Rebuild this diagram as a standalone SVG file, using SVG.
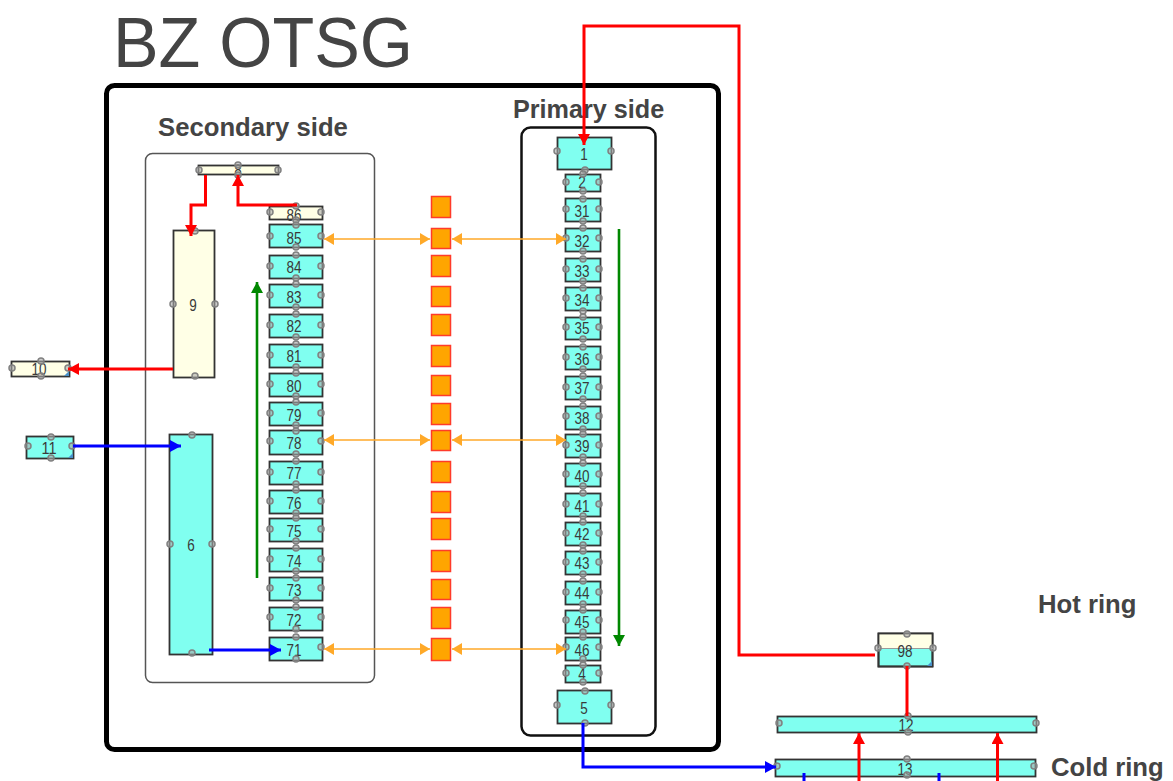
<svg xmlns="http://www.w3.org/2000/svg" width="1173" height="781" viewBox="0 0 1173 781">
<style>
text{font-family:"Liberation Sans",Arial,sans-serif}
.t{font-size:16px;fill:#3a3a3a;text-anchor:middle}
.h{font-size:25.700px;font-weight:bold;fill:#444}
.c rect{fill:#80fff0;stroke:#333;stroke-width:1.800}
.y rect{fill:#ffffe6;stroke:#333;stroke-width:1.800}
.o rect{fill:#ffa500;stroke:#ff3b2a;stroke-width:1.500}
circle{fill:#aaa;fill-opacity:.6;stroke:#808080;stroke-width:1.500}
.k{fill:#4a90c8;stroke:none}
.r{fill:none;stroke:#f00;stroke-width:3}
.b{fill:none;stroke:#00f;stroke-width:3}
.g{fill:none;stroke:#080;stroke-width:2.600}
.a{fill:none;stroke:#ffa928;stroke-width:1.600;marker-start:url(#ao);marker-end:url(#ao)}
</style>
<defs>
<marker id="ar" markerUnits="userSpaceOnUse" markerWidth="12" markerHeight="12" refX="11" refY="6" orient="auto"><path d="M0 0L11 6L0 12Z" fill="#f00"/></marker>
<marker id="ab" markerUnits="userSpaceOnUse" markerWidth="12" markerHeight="12" refX="11" refY="6" orient="auto"><path d="M0 0L11 6L0 12Z" fill="#00f"/></marker>
<marker id="ag" markerUnits="userSpaceOnUse" markerWidth="12" markerHeight="12" refX="11" refY="6" orient="auto"><path d="M0 0L11 6L0 12Z" fill="#080"/></marker>
<marker id="ao" markerUnits="userSpaceOnUse" markerWidth="11" markerHeight="12" refX="10" refY="6" orient="auto-start-reverse"><path d="M0 0L10 6L0 12Z" fill="#ffa928"/></marker>
</defs>
<rect width="1173" height="781" fill="#fff"/>
<g id="labels">
<text x="113" y="67" font-size="71" fill="#444" textLength="300" lengthAdjust="spacingAndGlyphs">BZ OTSG</text>
<text x="158" y="136" class="h">Secondary side</text>
<text x="513" y="118" class="h" style="font-size:25.200px">Primary side</text>
<text x="1038" y="613" class="h">Hot ring</text>
<text x="1051" y="776" class="h">Cold ring</text>
</g>
<g id="frames" fill="none">
<rect x="106.500" y="85.500" width="612" height="664" rx="8" stroke="#000" stroke-width="5"/>
<rect x="145.500" y="153.500" width="229" height="529" rx="7" stroke="#555" stroke-width="1.500"/>
<rect x="521.500" y="127.500" width="134" height="608" rx="9" stroke="#111" stroke-width="2.500"/>
</g>
<g id="n8" class="y"><rect x="198.500" y="165.500" width="80" height="9"/><text class="t" x="238" y="176" textLength="7.500" lengthAdjust="spacingAndGlyphs">8</text><circle cx="199" cy="170" r="3"/><circle cx="278" cy="170" r="3"/><circle cx="238" cy="165" r="3"/><circle cx="238" cy="175" r="3"/></g>
<g id="n9" class="y"><rect x="173.500" y="230.500" width="41" height="147"/><text class="t" x="193" y="311" textLength="7.500" lengthAdjust="spacingAndGlyphs">9</text><circle cx="173" cy="304" r="3"/><circle cx="215" cy="304" r="3"/><circle cx="195" cy="231" r="3"/><circle cx="195" cy="376" r="3"/></g>
<g id="n6" class="c"><rect x="169.500" y="434.500" width="43" height="220"/><text class="t" x="191" y="551" textLength="7.500" lengthAdjust="spacingAndGlyphs">6</text><circle cx="170" cy="544" r="3"/><circle cx="212" cy="544" r="3"/><circle cx="192" cy="435" r="3"/><circle cx="192" cy="653" r="3"/></g>
<g id="n10" class="y"><rect x="11.500" y="361.500" width="58" height="15"/><path class="k" d="M69 371V376H64Z"/><text class="t" x="39" y="375" textLength="15" lengthAdjust="spacingAndGlyphs">10</text><circle cx="12" cy="368" r="3"/><circle cx="68" cy="368" r="3"/><circle cx="41" cy="361" r="3"/><circle cx="41" cy="376" r="3"/></g>
<g id="n11" class="c"><rect x="26.500" y="436.500" width="47" height="22"/><path class="k" d="M73 453V458H68Z"/><text class="t" x="49" y="454" textLength="15" lengthAdjust="spacingAndGlyphs">11</text><circle cx="28" cy="446" r="3"/><circle cx="72" cy="446" r="3"/><circle cx="51" cy="437" r="3"/><circle cx="51" cy="458" r="3"/></g>
<g id="n86" class="y"><rect x="269.500" y="206.500" width="53" height="13"/><text class="t" x="294" y="221" textLength="15" lengthAdjust="spacingAndGlyphs">86</text><circle cx="270" cy="212" r="3"/><circle cx="321" cy="212" r="3"/><circle cx="296" cy="206" r="3"/><circle cx="296" cy="220" r="3"/></g>
<g id="n85" class="c"><rect x="269.500" y="224.500" width="53" height="23"/><text class="t" x="294" y="244" textLength="15" lengthAdjust="spacingAndGlyphs">85</text><circle cx="270" cy="236" r="3"/><circle cx="321" cy="236" r="3"/><circle cx="296" cy="225" r="3"/><circle cx="296" cy="247" r="3"/></g>
<g id="n84" class="c"><rect x="269.500" y="255.500" width="53" height="23"/><text class="t" x="294" y="273" textLength="15" lengthAdjust="spacingAndGlyphs">84</text><circle cx="270" cy="266" r="3"/><circle cx="321" cy="266" r="3"/><circle cx="296" cy="255" r="3"/><circle cx="296" cy="278" r="3"/></g>
<g id="n83" class="c"><rect x="269.500" y="284.500" width="53" height="23"/><text class="t" x="294" y="303" textLength="15" lengthAdjust="spacingAndGlyphs">83</text><circle cx="270" cy="295" r="3"/><circle cx="321" cy="295" r="3"/><circle cx="296" cy="284" r="3"/><circle cx="296" cy="307" r="3"/></g>
<g id="n82" class="c"><rect x="269.500" y="314.500" width="53" height="23"/><text class="t" x="294" y="332" textLength="15" lengthAdjust="spacingAndGlyphs">82</text><circle cx="270" cy="325" r="3"/><circle cx="321" cy="325" r="3"/><circle cx="296" cy="314" r="3"/><circle cx="296" cy="337" r="3"/></g>
<g id="n81" class="c"><rect x="269.500" y="344.500" width="53" height="23"/><text class="t" x="294" y="362" textLength="15" lengthAdjust="spacingAndGlyphs">81</text><circle cx="270" cy="355" r="3"/><circle cx="321" cy="355" r="3"/><circle cx="296" cy="344" r="3"/><circle cx="296" cy="367" r="3"/></g>
<g id="n80" class="c"><rect x="269.500" y="373.500" width="53" height="23"/><text class="t" x="294" y="392" textLength="15" lengthAdjust="spacingAndGlyphs">80</text><circle cx="270" cy="384" r="3"/><circle cx="321" cy="384" r="3"/><circle cx="296" cy="373" r="3"/><circle cx="296" cy="396" r="3"/></g>
<g id="n79" class="c"><rect x="269.500" y="402.500" width="53" height="23"/><text class="t" x="294" y="421" textLength="15" lengthAdjust="spacingAndGlyphs">79</text><circle cx="270" cy="413" r="3"/><circle cx="321" cy="413" r="3"/><circle cx="296" cy="402" r="3"/><circle cx="296" cy="425" r="3"/></g>
<g id="n78" class="c"><rect x="269.500" y="430.500" width="53" height="24"/><text class="t" x="294" y="449" textLength="15" lengthAdjust="spacingAndGlyphs">78</text><circle cx="270" cy="441" r="3"/><circle cx="321" cy="441" r="3"/><circle cx="296" cy="431" r="3"/><circle cx="296" cy="454" r="3"/></g>
<g id="n77" class="c"><rect x="269.500" y="461.500" width="53" height="23"/><text class="t" x="294" y="479" textLength="15" lengthAdjust="spacingAndGlyphs">77</text><circle cx="270" cy="472" r="3"/><circle cx="321" cy="472" r="3"/><circle cx="296" cy="461" r="3"/><circle cx="296" cy="484" r="3"/></g>
<g id="n76" class="c"><rect x="269.500" y="490.500" width="53" height="23"/><text class="t" x="294" y="509" textLength="15" lengthAdjust="spacingAndGlyphs">76</text><circle cx="270" cy="501" r="3"/><circle cx="321" cy="501" r="3"/><circle cx="296" cy="490" r="3"/><circle cx="296" cy="513" r="3"/></g>
<g id="n75" class="c"><rect x="269.500" y="518.500" width="53" height="23"/><text class="t" x="294" y="537" textLength="15" lengthAdjust="spacingAndGlyphs">75</text><circle cx="270" cy="529" r="3"/><circle cx="321" cy="529" r="3"/><circle cx="296" cy="518" r="3"/><circle cx="296" cy="541" r="3"/></g>
<g id="n74" class="c"><rect x="269.500" y="548.500" width="53" height="23"/><text class="t" x="294" y="567" textLength="15" lengthAdjust="spacingAndGlyphs">74</text><circle cx="270" cy="559" r="3"/><circle cx="321" cy="559" r="3"/><circle cx="296" cy="548" r="3"/><circle cx="296" cy="571" r="3"/></g>
<g id="n73" class="c"><rect x="269.500" y="577.500" width="53" height="23"/><text class="t" x="294" y="596" textLength="15" lengthAdjust="spacingAndGlyphs">73</text><circle cx="270" cy="588" r="3"/><circle cx="321" cy="588" r="3"/><circle cx="296" cy="578" r="3"/><circle cx="296" cy="600" r="3"/></g>
<g id="n72" class="c"><rect x="269.500" y="607.500" width="53" height="23"/><text class="t" x="294" y="626" textLength="15" lengthAdjust="spacingAndGlyphs">72</text><circle cx="270" cy="617" r="3"/><circle cx="321" cy="617" r="3"/><circle cx="296" cy="607" r="3"/><circle cx="296" cy="629" r="3"/></g>
<g id="n71" class="c"><rect x="269.500" y="637.500" width="53" height="23"/><text class="t" x="294" y="656" textLength="15" lengthAdjust="spacingAndGlyphs">71</text><circle cx="321" cy="647" r="3"/><circle cx="296" cy="637" r="3"/><circle cx="296" cy="659" r="3"/></g>
<g id="n1" class="c"><rect x="557.500" y="137.500" width="54" height="32"/><text class="t" x="584" y="160" textLength="7.500" lengthAdjust="spacingAndGlyphs">1</text><circle cx="557" cy="151" r="3"/><circle cx="611" cy="151" r="3"/><circle cx="585" cy="170" r="3"/></g>
<g id="n2" class="c"><rect x="565.500" y="174.500" width="35" height="17"/><text class="t" x="582" y="188" textLength="7.500" lengthAdjust="spacingAndGlyphs">2</text><circle cx="566" cy="182" r="3"/><circle cx="599" cy="182" r="3"/><circle cx="583" cy="174" r="3"/><circle cx="583" cy="191" r="3"/></g>
<g id="n31" class="c"><rect x="565.500" y="198.500" width="35" height="23"/><text class="t" x="582" y="217" textLength="15" lengthAdjust="spacingAndGlyphs">31</text><circle cx="566" cy="209" r="3"/><circle cx="599" cy="209" r="3"/><circle cx="583" cy="199" r="3"/><circle cx="583" cy="221" r="3"/></g>
<g id="n32" class="c"><rect x="565.500" y="228.500" width="35" height="23"/><text class="t" x="582" y="247" textLength="15" lengthAdjust="spacingAndGlyphs">32</text><circle cx="566" cy="238" r="3"/><circle cx="599" cy="238" r="3"/><circle cx="583" cy="228" r="3"/><circle cx="583" cy="251" r="3"/></g>
<g id="n33" class="c"><rect x="565.500" y="258.500" width="35" height="23"/><text class="t" x="582" y="277" textLength="15" lengthAdjust="spacingAndGlyphs">33</text><circle cx="566" cy="269" r="3"/><circle cx="599" cy="269" r="3"/><circle cx="583" cy="259" r="3"/><circle cx="583" cy="281" r="3"/></g>
<g id="n34" class="c"><rect x="565.500" y="287.500" width="35" height="23"/><text class="t" x="582" y="306" textLength="15" lengthAdjust="spacingAndGlyphs">34</text><circle cx="566" cy="298" r="3"/><circle cx="599" cy="298" r="3"/><circle cx="583" cy="288" r="3"/><circle cx="583" cy="311" r="3"/></g>
<g id="n35" class="c"><rect x="565.500" y="317.500" width="35" height="22"/><text class="t" x="582" y="334" textLength="15" lengthAdjust="spacingAndGlyphs">35</text><circle cx="566" cy="327" r="3"/><circle cx="599" cy="327" r="3"/><circle cx="583" cy="317" r="3"/><circle cx="583" cy="339" r="3"/></g>
<g id="n36" class="c"><rect x="565.500" y="346.500" width="35" height="23"/><text class="t" x="582" y="365" textLength="15" lengthAdjust="spacingAndGlyphs">36</text><circle cx="566" cy="357" r="3"/><circle cx="599" cy="357" r="3"/><circle cx="583" cy="347" r="3"/><circle cx="583" cy="369" r="3"/></g>
<g id="n37" class="c"><rect x="565.500" y="376.500" width="35" height="23"/><text class="t" x="582" y="394" textLength="15" lengthAdjust="spacingAndGlyphs">37</text><circle cx="566" cy="387" r="3"/><circle cx="599" cy="387" r="3"/><circle cx="583" cy="376" r="3"/><circle cx="583" cy="399" r="3"/></g>
<g id="n38" class="c"><rect x="565.500" y="406.500" width="35" height="23"/><text class="t" x="582" y="424" textLength="15" lengthAdjust="spacingAndGlyphs">38</text><circle cx="566" cy="416" r="3"/><circle cx="599" cy="416" r="3"/><circle cx="583" cy="406" r="3"/><circle cx="583" cy="429" r="3"/></g>
<g id="n39" class="c"><rect x="565.500" y="434.500" width="35" height="23"/><text class="t" x="582" y="452" textLength="15" lengthAdjust="spacingAndGlyphs">39</text><circle cx="566" cy="445" r="3"/><circle cx="599" cy="445" r="3"/><circle cx="583" cy="434" r="3"/><circle cx="583" cy="457" r="3"/></g>
<g id="n40" class="c"><rect x="565.500" y="463.500" width="35" height="23"/><text class="t" x="582" y="482" textLength="15" lengthAdjust="spacingAndGlyphs">40</text><circle cx="566" cy="474" r="3"/><circle cx="599" cy="474" r="3"/><circle cx="583" cy="463" r="3"/><circle cx="583" cy="486" r="3"/></g>
<g id="n41" class="c"><rect x="565.500" y="493.500" width="35" height="23"/><text class="t" x="582" y="512" textLength="15" lengthAdjust="spacingAndGlyphs">41</text><circle cx="566" cy="504" r="3"/><circle cx="599" cy="504" r="3"/><circle cx="583" cy="493" r="3"/><circle cx="583" cy="516" r="3"/></g>
<g id="n42" class="c"><rect x="565.500" y="522.500" width="35" height="23"/><text class="t" x="582" y="540" textLength="15" lengthAdjust="spacingAndGlyphs">42</text><circle cx="566" cy="533" r="3"/><circle cx="599" cy="533" r="3"/><circle cx="583" cy="522" r="3"/><circle cx="583" cy="545" r="3"/></g>
<g id="n43" class="c"><rect x="565.500" y="551.500" width="35" height="23"/><text class="t" x="582" y="569" textLength="15" lengthAdjust="spacingAndGlyphs">43</text><circle cx="566" cy="562" r="3"/><circle cx="599" cy="562" r="3"/><circle cx="583" cy="551" r="3"/><circle cx="583" cy="574" r="3"/></g>
<g id="n44" class="c"><rect x="565.500" y="581.500" width="35" height="23"/><text class="t" x="582" y="599" textLength="15" lengthAdjust="spacingAndGlyphs">44</text><circle cx="566" cy="592" r="3"/><circle cx="599" cy="592" r="3"/><circle cx="583" cy="581" r="3"/><circle cx="583" cy="604" r="3"/></g>
<g id="n45" class="c"><rect x="565.500" y="610.500" width="35" height="23"/><text class="t" x="582" y="628" textLength="15" lengthAdjust="spacingAndGlyphs">45</text><circle cx="566" cy="620" r="3"/><circle cx="599" cy="620" r="3"/><circle cx="583" cy="610" r="3"/><circle cx="583" cy="632" r="3"/></g>
<g id="n46" class="c"><rect x="565.500" y="637.500" width="35" height="23"/><text class="t" x="582" y="656" textLength="15" lengthAdjust="spacingAndGlyphs">46</text><circle cx="566" cy="647" r="3"/><circle cx="599" cy="647" r="3"/><circle cx="583" cy="637" r="3"/><circle cx="583" cy="659" r="3"/></g>
<g id="n4" class="c"><rect x="565.500" y="665.500" width="35" height="17"/><text class="t" x="582" y="680" textLength="7.500" lengthAdjust="spacingAndGlyphs">4</text><circle cx="566" cy="673" r="3"/><circle cx="599" cy="673" r="3"/><circle cx="583" cy="665" r="3"/><circle cx="583" cy="682" r="3"/></g>
<g id="n5" class="c"><rect x="557.500" y="690.500" width="54" height="33"/><text class="t" x="584" y="714" textLength="7.500" lengthAdjust="spacingAndGlyphs">5</text><circle cx="557" cy="705" r="3"/><circle cx="611" cy="705" r="3"/><circle cx="585" cy="691" r="3"/><circle cx="585" cy="723" r="3"/></g>
<g id="n98" class="c"><rect x="878.500" y="633.500" width="54" height="33"/><rect x="878.500" y="633.500" width="54" height="15" style="fill:#ffffe6;stroke:none"/><rect x="878.500" y="633.500" width="54" height="33" style="fill:none"/><path d="M878 648.500H933" stroke="#999" stroke-width="1"/><path class="k" d="M932 661V666H927Z"/><text class="t" x="905" y="657" textLength="15" lengthAdjust="spacingAndGlyphs">98</text><circle cx="878" cy="648" r="3"/><circle cx="933" cy="648" r="3"/><circle cx="907" cy="634" r="3"/><circle cx="907" cy="666" r="3"/></g>
<g id="n12" class="c"><rect x="777.500" y="716.500" width="259" height="16"/><text class="t" x="906" y="731" textLength="15" lengthAdjust="spacingAndGlyphs">12</text><circle cx="779" cy="723" r="3"/><circle cx="1036" cy="723" r="3"/><circle cx="908" cy="716" r="3"/><circle cx="908" cy="732" r="3"/></g>
<g id="n13" class="c"><rect x="775.500" y="759.500" width="260" height="17"/><text class="t" x="905" y="775" textLength="15" lengthAdjust="spacingAndGlyphs">13</text><circle cx="777" cy="766" r="3"/><circle cx="1034" cy="766" r="3"/><circle cx="907" cy="759" r="3"/><circle cx="907" cy="775" r="3"/></g>
<g id="solids" class="o">
<rect x="431.500" y="196.500" width="19" height="21"/><rect x="431.500" y="228.500" width="19" height="20"/><rect x="431.500" y="255.500" width="19" height="21"/><rect x="431.500" y="286.500" width="19" height="20"/><rect x="431.500" y="314.500" width="19" height="21"/><rect x="431.500" y="345.500" width="19" height="21"/><rect x="431.500" y="375.500" width="19" height="20"/><rect x="431.500" y="403.500" width="19" height="21"/><rect x="431.500" y="430.500" width="19" height="20"/><rect x="431.500" y="461.500" width="19" height="21"/><rect x="431.500" y="491.500" width="19" height="21"/><rect x="431.500" y="518.500" width="19" height="21"/><rect x="431.500" y="550.500" width="19" height="21"/><rect x="431.500" y="579.500" width="19" height="20"/><rect x="431.500" y="607.500" width="19" height="21"/><rect x="431.500" y="638.500" width="19" height="22"/>
</g>
<g id="connectors">
<path class="r" marker-end="url(#ar)" d="M875 655H739V26H584V145"/>
<path class="r" marker-end="url(#ar)" d="M205.500 175V205H191V236"/>
<path class="r" marker-end="url(#ar)" d="M297 205H238V175"/>
<path class="r" marker-end="url(#ar)" d="M173 369H68"/>
<path class="r" d="M907 666V716"/>
<path class="r" marker-end="url(#ar)" d="M859 781V733"/>
<path class="r" marker-end="url(#ar)" d="M997.500 781V733"/>
<path class="b" marker-end="url(#ab)" d="M73 446H181"/>
<path class="b" marker-end="url(#ab)" d="M209 650H281"/>
<path class="b" marker-end="url(#ab)" d="M583 723V767H776"/>
<path class="b" d="M804 773V781M939 773V781"/>
<path class="g" marker-end="url(#ag)" d="M257 578V282"/>
<path class="g" marker-end="url(#ag)" d="M619 229V646"/>
<path class="a" d="M324 239H430"/><path class="a" d="M452 239H566"/>
<path class="a" d="M324 440H430"/><path class="a" d="M452 440H566"/>
<path class="a" d="M324 649H430"/><path class="a" d="M452 649H566"/>
</g>
</svg>
